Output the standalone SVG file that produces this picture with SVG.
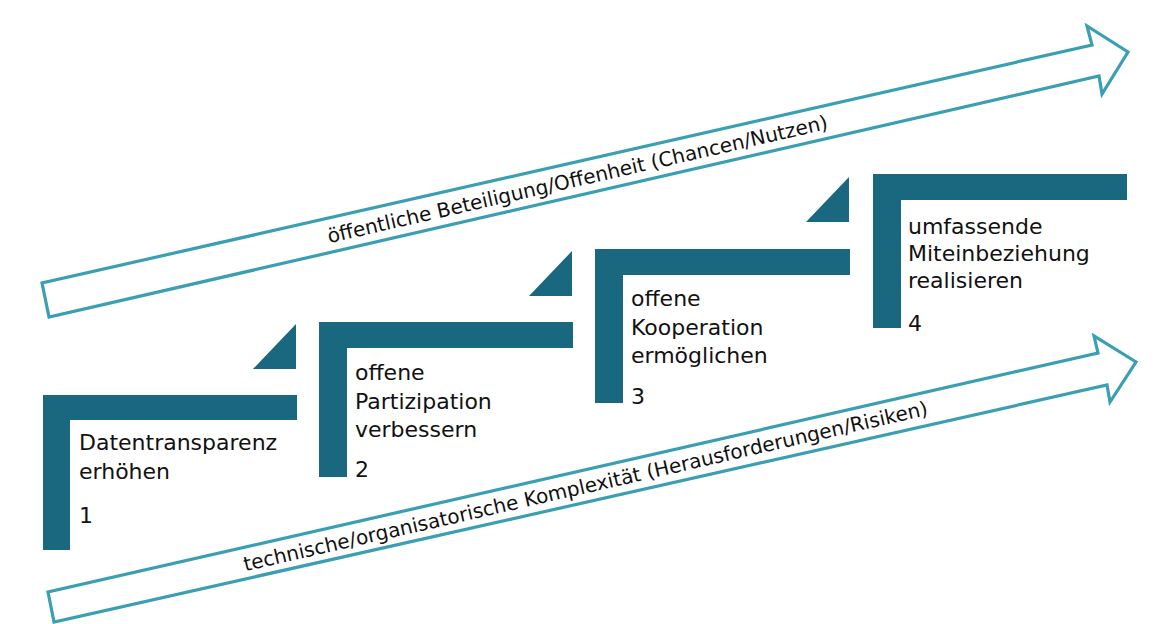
<svg xmlns="http://www.w3.org/2000/svg" width="1168" height="624" viewBox="0 0 1168 624">
<style>
.bar{fill:#1a6880}
.arr{fill:#ffffff;stroke:#3a9fb2;stroke-width:3.2;stroke-linejoin:miter}
.t{font-family:"DejaVu Sans","Liberation Sans",sans-serif;font-size:22px;fill:#111111}
.a{font-family:"DejaVu Sans","Liberation Sans",sans-serif;font-size:20px;fill:#111111;text-anchor:middle}
</style>
<rect width="1168" height="624" fill="#ffffff"/>
<g id="connectors">
<g id="arrow-top">
<polygon class="arr" points="49,317 42,283 1092,45 1087,26 1128,52 1102,94 1099,76"/>
<text class="a" transform="translate(579,186) rotate(-12.9)">öffentliche Beteiligung/Offenheit (Chancen/Nutzen)</text>
</g>
<g id="arrow-bottom">
<polygon class="arr" points="54,622 48,592 1098,353 1094,336 1136,362 1110,402 1107,385"/>
<text class="a" transform="translate(587,493) rotate(-12.9)">technische/organisatorische Komplexität (Herausforderungen/Risiken)</text>
</g>
</g>
<g id="step1">
<path class="bar" d="M43,395 H297 V420 H70 V550 H43 Z"/>
<polygon class="bar" points="253,369 296,324 296,369"/>
<text class="t" x="79" y="450">Datentransparenz</text>
<text class="t" x="79" y="479">erhöhen</text>
<text class="t" x="79" y="523">1</text>
</g>
<g id="step2">
<path class="bar" d="M319,322 H573 V348 H347 V477 H319 Z"/>
<polygon class="bar" points="529,296 572,251 572,296"/>
<text class="t" x="355" y="380">offene</text>
<text class="t" x="355" y="409">Partizipation</text>
<text class="t" x="355" y="437">verbessern</text>
<text class="t" x="355" y="477">2</text>
</g>
<g id="step3">
<path class="bar" d="M595,249 H850 V275 H623 V403 H595 Z"/>
<polygon class="bar" points="806,222 849,177 849,222"/>
<text class="t" x="631" y="306">offene</text>
<text class="t" x="631" y="335">Kooperation</text>
<text class="t" x="631" y="363">ermöglichen</text>
<text class="t" x="631" y="404">3</text>
</g>
<g id="step4">
<path class="bar" d="M873,174 H1127 V200 H901 V328 H873 Z"/>
<text class="t" x="908" y="234">umfassende</text>
<text class="t" x="908" y="261">Miteinbeziehung</text>
<text class="t" x="908" y="288">realisieren</text>
<text class="t" x="908" y="331">4</text>
</g>
</svg>
